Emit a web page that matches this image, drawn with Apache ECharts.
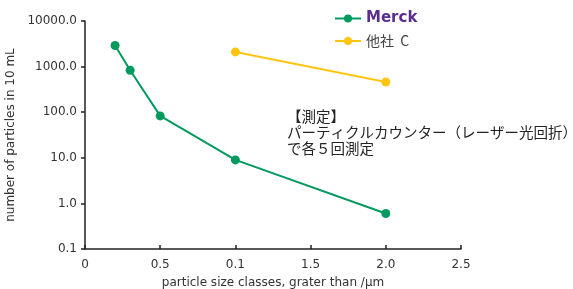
<!DOCTYPE html>
<html>
<head>
<meta charset="utf-8">
<script src="https://cdn.jsdelivr.net/npm/echarts@6/dist/echarts.min.js"></script>
<style>
  html, body { margin: 0; padding: 0; background: #fff; }
  #chart { width: 573px; height: 289px; }
</style>
</head>
<body>
<div id="chart"></div>
<script>
// particle size (µm) and counts per 10 mL
const merckSizes = [0.2, 0.3, 0.5, 1.0, 2.0]
const merckCounts = [2900, 830, 83, 9.0, 0.6]
const otherSizes = [1.0, 2.0]
const otherCounts = [2100, 460]
// x tick labels as printed in the original (note "0.1" at 1.0)
const xTickLabels = ['0', '0.5', '0.1', '1.5', '2.0', '2.5']

const chart = echarts.init(document.getElementById('chart'))
const font = 'DejaVu Sans, Verdana, sans-serif'

const option = {
  animation: false,
  textStyle: { fontFamily: font },
  grid: { left: 85, right: 112, top: 21, bottom: 40, outerBoundsMode: 'none' },
  legend: {
    orient: 'vertical',
    left: 329,
    top: 6,
    itemWidth: 26,
    itemHeight: 10,
    itemGap: 8,
    data: ['Merck', '他社 C'],
    formatter: (name) => (name === 'Merck' ? '{m|Merck}' : '{o|他社  C}'),
    textStyle: {
      rich: {
        m: { color: '#5a2d91', fontWeight: 'bold', fontSize: 15, fontFamily: font },
        o: { color: '#444', fontSize: 14, fontFamily: 'Noto Sans CJK JP, sans-serif' }
      }
    }
  },
  xAxis: {
    type: 'value',
    min: 0,
    max: 2.5,
    interval: 0.5,
    name: 'particle size classes, grater than /μm',
    nameLocation: 'middle',
    nameGap: 28,
    nameTextStyle: { color: '#333', fontSize: 12, fontFamily: font },
    axisLine: { show: true, lineStyle: { color: '#222', width: 1.5 } },
    axisTick: { show: true, inside: true, length: 4, lineStyle: { color: '#222', width: 1.5 } },
    axisLabel: {
      color: '#333',
      fontSize: 12,
      margin: 10,
      formatter: (v) => xTickLabels[Math.round(v / 0.5)]
    },
    splitLine: { show: false }
  },
  yAxis: {
    type: 'log',
    logBase: 10,
    min: 0.1,
    max: 10000,
    name: 'number of particles in 10 mL',
    nameLocation: 'middle',
    nameGap: 59,
    nameTextStyle: { color: '#333', fontSize: 12, fontFamily: font },
    axisLine: { show: true, lineStyle: { color: '#222', width: 1.5 } },
    axisTick: { show: true, length: 4, lineStyle: { color: '#222', width: 1.5 } },
    axisLabel: {
      color: '#333',
      fontSize: 12,
      margin: 8,
      formatter: (v) => Number(v).toFixed(1)
    },
    splitLine: { show: false }
  },
  series: [
    {
      name: 'Merck',
      type: 'line',
      data: merckSizes.map((x, i) => [x, merckCounts[i]]),
      symbol: 'circle',
      symbolSize: 9,
      itemStyle: { color: '#009a5e' },
      lineStyle: { color: '#009a5e', width: 2 }
    },
    {
      name: '他社 C',
      type: 'line',
      data: otherSizes.map((x, i) => [x, otherCounts[i]]),
      symbol: 'circle',
      symbolSize: 9,
      itemStyle: { color: '#ffc510' },
      lineStyle: { color: '#ffc510', width: 2 }
    }
  ],
  graphic: [
    {
      type: 'text',
      left: 287,
      top: 108,
      style: {
        text: '【測定】\nパーティクルカウンター（レーザー光回折）\nで各５回測定',
        fill: '#222',
        font: '14.5px "Noto Sans CJK JP", sans-serif',
        lineHeight: 16
      }
    }
  ]
}

chart.setOption(option)
</script>
</body>
</html>
